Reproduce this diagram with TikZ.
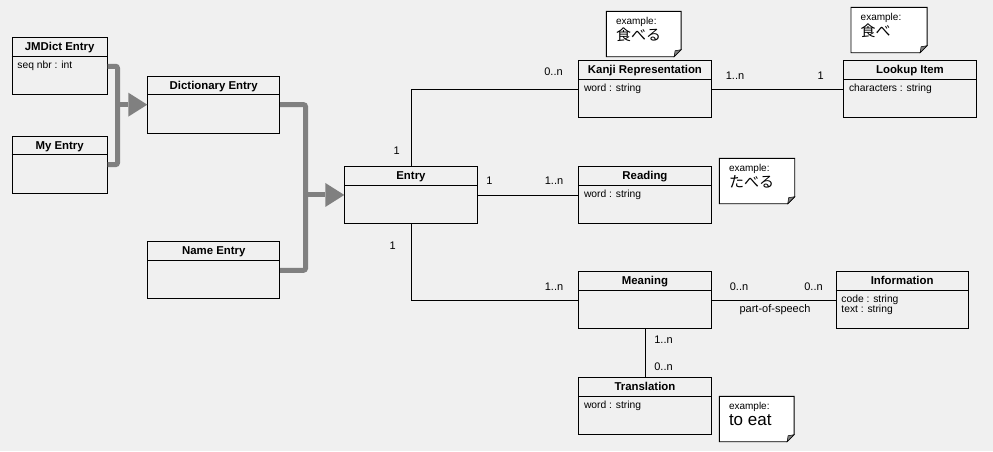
\documentclass[tikz,border=0pt]{standalone}
\usepackage{fontspec}
\setmainfont{Liberation Sans}
\newfontfamily\jpfont{Noto Sans CJK JP}
\usepackage{tikz}
\usetikzlibrary{arrows.meta,positioning}
\definecolor{bgcol}{rgb}{0.941, 0.941, 0.941}
\definecolor{gencol}{rgb}{0.5, 0.5, 0.5}
\tikzstyle{classbox}=[draw,line width=0.9pt,fill=bgcol,anchor=north west,inner sep=0pt,minimum height=57pt]
\tikzstyle{classtitle}=[font=\bfseries\fontsize{11.4}{13}\selectfont,inner sep=0pt,anchor=base]
\tikzstyle{classattr}=[font=\fontsize{10.3}{10}\selectfont,inner sep=0pt,anchor=north west,align=left]
\tikzstyle{mult}=[font=\fontsize{11}{13}\selectfont,inner sep=0pt,anchor=base]
\tikzstyle{assoc}=[line width=0.9pt]
\tikzstyle{genline}=[line width=5pt,draw=gencol,rounded corners=2pt]
\tikzstyle{genarrow}=[-{Triangle[length=19pt,width=24pt,line width=0pt]}]
\tikzstyle{noteframe}=[anchor=north west,inner sep=0pt,minimum height=45pt]
\tikzstyle{notebox}=[draw,line width=0.9pt,fill=white]
\tikzstyle{notetag}=[font=\fontsize{10}{12}\selectfont,inner sep=0pt,anchor=base west]
\newcommand{\umlclass}[6]{
  \node[classbox, minimum width=#4pt] (#1) at (#2, #3) {};
  \draw[assoc] ([yshift=-19pt]#1.north west) -- ([yshift=-19pt]#1.north east);
  \node[classtitle] (#1-title) at ([yshift=-13.3pt]#1.north) {#5};
  \node[classattr] (#1-attr) at ([xshift=5.5pt, yshift=-23.8pt]#1.north west) {#6};
}
\newcommand{\examplenote}[6]{
  \node[noteframe, minimum width=#4pt] (#1) at (#2, #3) {};
  \draw[notebox] (#1.north west) -- (#1.north east) -- ([yshift=7pt]#1.south east)
   -- ([xshift=-7pt]#1.south east) -- (#1.south west) -- cycle;
  \filldraw[fill=gencol, line width=0.5pt] ([yshift=7pt]#1.south east)
   -- ([xshift=-7pt]#1.south east) -- ([xshift=-6pt, yshift=6pt]#1.south east) -- cycle;
  \node[notetag] (#1-tag) at ([xshift=9.5pt, yshift=-13pt]#1.north west) {example:};
  \node[notetag, font=#5] (#1-text) at ([xshift=9.5pt, yshift=-29pt]#1.north west) {#6};
}

\begin{document}
\begin{tikzpicture}[x=1pt, y=-1pt]
\path[use as bounding box, fill=bgcol] (0, 0) rectangle (993, 451);
\umlclass{jmdict}{11.7}{37.3}{95}{JMDict Entry}{seq nbr : int}
\umlclass{myentry}{11.7}{135.7}{95}{My Entry}{}
\umlclass{dictentry}{147.3}{75.7}{132}{Dictionary Entry}{}
\umlclass{nameentry}{147.3}{241.3}{132}{Name Entry}{}
\umlclass{entry}{344.3}{166}{132.4}{Entry}{}
\umlclass{kanji}{578.3}{60.3}{132.4}{Kanji Representation}{word : string}
\umlclass{lookup}{843.3}{60.3}{132.4}{Lookup Item}{characters : string}
\umlclass{reading}{578.3}{166}{132.4}{Reading}{word : string}
\umlclass{meaning}{578.3}{271.3}{132.4}{Meaning}{}
\umlclass{information}{835.7}{271.3}{132}{Information}{code : string\\text : string}
\umlclass{translation}{578.3}{377.3}{132.4}{Translation}{word : string}
\coordinate (dictjoin) at ([xshift=-29.8pt]dictentry.west);
\coordinate (entryjoin) at ([xshift=-38.8pt]entry.west);
\draw[genline] (jmdict.east) -| (dictjoin) |- (myentry.east);
\draw[genline, genarrow] (dictjoin) -- (dictentry.west);
\draw[genline] (dictentry.east) -| (entryjoin) |- (nameentry.east);
\draw[genline, genarrow] (entryjoin) -- (entry.west);
\draw[assoc] (entry.north) |- (kanji.west);
\draw[assoc] (entry.east) -- (reading.west);
\draw[assoc] (entry.south) |- (meaning.west);
\draw[assoc] (kanji.east) -- (lookup.west);
\draw[assoc] (meaning.east) -- (information.west);
\draw[assoc] (meaning.south) -- (translation.north);
\node[mult] (m-entry-kanji) at (396.7, 154) {1};
\node[mult] (m-kanji-entry) at (553.5, 75) {0..n};
\node[mult] (m-entry-reading) at (489.5, 184.3) {1};
\node[mult] (m-reading-entry) at (554, 184.3) {1..n};
\node[mult] (m-entry-meaning) at (392.7, 249) {1};
\node[mult] (m-meaning-entry) at (554, 290) {1..n};
\node[mult] (m-kanji-lookup) at (735, 79) {1..n};
\node[mult] (m-lookup-kanji) at (820.7, 79) {1};
\node[mult] (m-meaning-info) at (739, 290) {0..n};
\node[mult] (m-info-meaning) at (813.5, 290) {0..n};
\node[mult] (pos-label) at (775, 312.3) {part-of-speech};
\node[mult] (m-meaning-trans) at (663.5, 343.3) {1..n};
\node[mult] (m-trans-meaning) at (663.5, 370) {0..n};
\examplenote{kanjinote}{606.3}{11.3}{74.4}{\jpfont\fontsize{15}{17}\selectfont}{食べる}
\examplenote{lookupnote}{851}{7.3}{75.7}{\jpfont\fontsize{15}{17}\selectfont}{食べ}
\examplenote{readingnote}{719.3}{158.3}{75}{\jpfont\fontsize{15}{17}\selectfont}{たべる}
\examplenote{transnote}{719.3}{396.3}{74.4}{\fontsize{17}{19}\selectfont}{to eat}
\end{tikzpicture}
\end{document}
